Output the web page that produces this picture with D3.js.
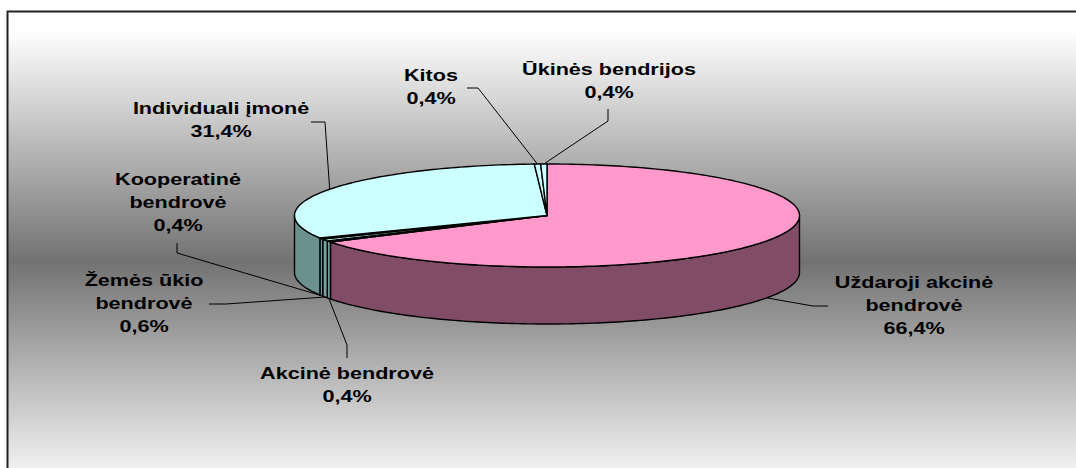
<!DOCTYPE html>
<html>
<head>
<meta charset="utf-8">
<script src="https://cdn.jsdelivr.net/npm/d3@7"></script>
<style>
  body { margin: 0; background: #fff; }
  text { font-family: "Liberation Sans", Arial, sans-serif; font-weight: bold; font-size: 17px; fill: #000; }
</style>
</head>
<body>
<div class="main"></div>
<script>
// data
const categories = ["Uždaroji akcinė bendrovė", "Akcinė bendrovė", "Žemės ūkio bendrovė",
                    "Kooperatinė bendrovė", "Individuali įmonė", "Kitos", "Ūkinės bendrijos"];
const values = [66.4, 0.4, 0.6, 0.4, 31.4, 0.4, 0.4];
const labelLines = [["Uždaroji akcinė", "bendrovė"], ["Akcinė bendrovė"], ["Žemės ūkio", "bendrovė"],
                    ["Kooperatinė", "bendrovė"], ["Individuali įmonė"], ["Kitos"], ["Ūkinės bendrijos"]];

// colours for top faces / side walls
const topColors  = ["#ff99cc", "#ccffff", "#ccffff", "#ccffff", "#ccffff", "#ccffff", "#ccffff"];
const sideColors = ["#804c66", "#6f9797", "#7a9e9e", "#6f9797", "#6a9090", "#6a9090", "#6a9090"];

// label layout: centre x, first baseline y, leader start and elbow
const labelPos = [
  {x: 914, y: 288, from: [828, 306], elbow: [813, 306]},
  {x: 347, y: 379, from: [347, 358], elbow: [347, 345]},
  {x: 144, y: 286, from: [209, 304], elbow: [226, 304]},
  {x: 178, y: 185, from: [177, 243], elbow: [177, 253]},
  {x: 221, y: 114, from: [311, 122], elbow: [325, 122]},
  {x: 431, y: 81,  from: [467, 88],  elbow: [478, 88]},
  {x: 609, y: 75,  from: [608, 109], elbow: [608, 121]}
];

const svgWidth = 1076, svgHeight = 468;
const cx = 547, cy = 215.5, rx = 252.5, ry = 51.5, depth = 57;
const lineH = 23, stretch = 1.27;

let svg = d3.select("body>.main").append("svg")
    .attr("width", svgWidth)
    .attr("height", svgHeight);

// background gradient
let grad = svg.append("defs").append("linearGradient")
    .attr("id", "bg").attr("x1", 0).attr("y1", 0).attr("x2", 0).attr("y2", 1);
[[0, "#ffffff"], [0.04, "#ffffff"], [0.5, "#727272"], [0.94, "#f8f8f8"], [1, "#ffffff"]].forEach(function(s) {
  grad.append("stop").attr("offset", s[0]).attr("stop-color", s[1]);
});

svg.append("rect")
    .attr("x", 7.5).attr("y", 11.5)
    .attr("width", 1100).attr("height", 500)
    .style("fill", "url(#bg)")
    .style("stroke", "#222")
    .style("stroke-width", 2);

// pie geometry
const pie = d3.pie().sort(null).startAngle(0).endAngle(2 * Math.PI);
const arcs = pie(values);

function pt(a, dy) { return [cx + rx * Math.sin(a), cy - ry * Math.cos(a) + (dy || 0)]; }
function arcPts(a0, a1, dy) {
  const n = Math.max(2, Math.ceil((a1 - a0) / 0.02));
  return d3.range(n + 1).map(i => pt(a0 + (a1 - a0) * i / n, dy));
}
const closed = d3.line().curve(d3.curveLinearClosed);

let g = svg.append("g").attr("class", "pie");

// side walls (front half only)
g.selectAll(".side")
  .data(arcs.filter(d => d.startAngle < 1.5 * Math.PI && d.endAngle > 0.5 * Math.PI))
  .enter().append("path")
    .attr("class", "side")
    .attr("d", function(d) {
      const s = Math.max(d.startAngle, 0.5 * Math.PI), e = Math.min(d.endAngle, 1.5 * Math.PI);
      return closed(arcPts(s, e, 0).concat(arcPts(s, e, depth).reverse()));
    })
    .style("fill", d => sideColors[d.index])
    .style("stroke", "#000")
    .style("stroke-width", 1.4)
    .style("stroke-linejoin", "round");

// top faces
g.selectAll(".top")
  .data(arcs)
  .enter().append("path")
    .attr("class", "top")
    .attr("d", d => closed([[cx, cy]].concat(arcPts(d.startAngle, d.endAngle, 0))))
    .style("fill", d => topColors[d.index])
    .style("stroke", "#000")
    .style("stroke-width", 1.4)
    .style("stroke-linejoin", "round");

// leader lines
function anchor(d) {
  const m = (d.startAngle + d.endAngle) / 2;
  return (m > 0.5 * Math.PI && m < 1.5 * Math.PI) ? pt(m, depth) : pt(m, 0);
}
svg.append("g").attr("class", "leaders")
  .selectAll("path")
  .data(arcs)
  .enter().append("path")
    .attr("d", d => d3.line()([labelPos[d.index].from, labelPos[d.index].elbow, anchor(d)]))
    .style("fill", "none")
    .style("stroke", "#000")
    .style("stroke-width", 1);

// labels
const pct = v => d3.format(".1f")(v).replace(".", ",") + "%";
let labels = svg.append("g").attr("class", "labels")
  .selectAll("g")
  .data(arcs)
  .enter().append("g")
    .attr("transform", d => "translate(" + labelPos[d.index].x + "," + labelPos[d.index].y + ") scale(" + stretch + ",1)");

labels.each(function(d) {
  const lines = labelLines[d.index].concat([pct(values[d.index])]);
  d3.select(this).selectAll("text")
    .data(lines)
    .enter().append("text")
      .attr("x", 0)
      .attr("y", (t, i) => i * lineH)
      .attr("text-anchor", "middle")
      .text(t => t);
});
</script>
</body>
</html>
